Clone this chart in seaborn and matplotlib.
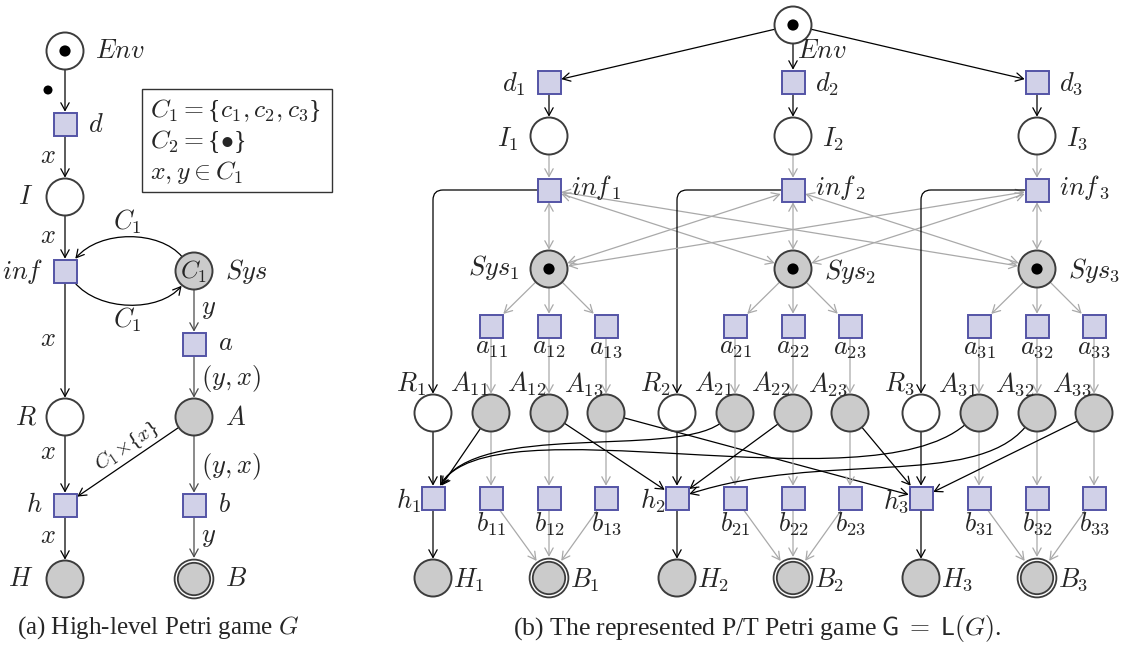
import numpy as np
import matplotlib
matplotlib.use("Agg")
import matplotlib.pyplot as plt
from matplotlib.patches import Circle, Rectangle, FancyArrowPatch
from matplotlib.path import Path
import seaborn as sns

# ── Style ──────────────────────────────────────────────────────────────────────
sns.set_theme(style="white")
plt.rcParams["font.family"] = ["Liberation Serif", "DejaVu Serif"]
plt.rcParams["mathtext.fontset"] = "cm"

W, H = 1127, 645
R_PLACE = 18.5
R_FINAL = 20.3
HALF_T = 11.5
T_FILL, T_EDGE = "#d1d1e8", "#5454a6"
P_FILL, P_EDGE = "#cbcbcb", "#3c3c3c"
GREY = "#a9a9a9"
DARK = "#4a4a4a"
FS = 19

# ── Panel (a): high-level Petri game ─────────────────────────────────────────
HL_PLACES = {"Env": (65, 51), "I": (65, 197), "Sys": (194, 271),
             "R": (65, 417), "A": (194, 417), "H": (65, 579), "B": (194, 579)}
HL_PLACE_KIND = {"Env": "token", "I": "empty", "Sys": "grey", "R": "empty",
                 "A": "grey", "H": "grey", "B": "final"}
HL_TRANS = {"d": (65, 124), "inf": (65, 271), "a": (194, 344),
            "h": (65, 505), "b": (194, 505)}
HL_ARCS_BLACK = [("Env", "d"), ("d", "I"), ("I", "inf"), ("inf", "R"),
                 ("R", "h"), ("h", "H"), ("A", "h")]
HL_ARCS_DARK = [("Sys", "a"), ("a", "A"), ("A", "b"), ("b", "B")]
# (from, to, out angle, out length, in angle, in length)
HL_BENT = [("Sys", "inf", 130, 35, 50, 38), ("inf", "Sys", -50, 38, 230, 35)]
HL_NODE_LABELS = [("$Env$", 95, 52, "left"), ("$d$", 88, 125, "left"),
                  ("$I$", 33, 197, "right"), ("$inf$", 43, 272, "right"),
                  ("$Sys$", 225, 271, "left"), ("$a$", 218, 344, "left"),
                  ("$A$", 225, 418, "left"), ("$R$", 37, 418, "right"),
                  ("$h$", 43, 505, "right"), ("$b$", 218, 505, "left"),
                  ("$H$", 33, 580, "right"), ("$B$", 225, 580, "left")]
HL_ARC_LABELS = [("$x$", 48, 157), ("$x$", 48, 237), ("$x$", 48, 340),
                 ("$x$", 48, 453), ("$x$", 48, 537), ("$y$", 209, 310),
                 ("$y$", 209, 538), ("$(y,x)$", 231, 378), ("$(y,x)$", 231, 466),
                 ("$C_1$", 127, 222), ("$C_1$", 127, 320)]
# braces set as plain text so they keep normal size
HL_BOX_LINES = [r"$C_1 =${$c_1, c_2, c_3$}", r"$C_2 =${$\bullet$}", r"$x, y \in C_1$"]

# ── Panel (b): P/T Petri game ─────────────────────────────────────────────────
PT_ENV = (793, 25)
PT_GROUP_X = [433, 677, 921]                                          # R_i, h_i, H_i
PT_SUB_X = [[491, 549, 606], [735, 793, 850], [979, 1037, 1094]]      # a_ij, A_ij, b_ij
PT_ROW_Y = {"d": 82, "I": 136, "inf": 190, "Sys": 269, "a": 326,
            "A": 413, "h": 498, "H": 578}
# curved A_ij -> h_j arcs: (from, to, out, out length, in, in length)
PT_BENT = [("A21", "h1", 215, 60, 60, 75), ("A31", "h1", 220, 130, 60, 100),
           ("A32", "h2", 230, 80, 18, 140)]

NODES = {}


def ang_dir(a):
    r = np.radians(a)
    return np.cos(r), -np.sin(r)


def boundary(name, toward=None, ang=None, gap=0.0):
    x, y, shape = NODES[name]
    if toward is not None:
        dx, dy = NODES[toward][0] - x, NODES[toward][1] - y
    else:
        dx, dy = ang_dir(ang)
    n = np.hypot(dx, dy)
    dx, dy = dx / n, dy / n
    if shape == "c":
        t = R_PLACE + gap
    elif shape == "f":
        t = R_FINAL + gap
    else:
        t = (HALF_T + gap) / max(abs(dx), abs(dy))
    return x + dx * t, y + dy * t


def arrow_style(both=False):
    return ("<->" if both else "->") + ",head_length=0.55,head_width=0.3"


def arc(ax, a, b, color="black", both=False):
    p0 = boundary(a, toward=b, gap=0.8 if both else 0.0)
    p1 = boundary(b, toward=a, gap=0.8)
    ax.add_patch(FancyArrowPatch(p0, p1, arrowstyle=arrow_style(both), mutation_scale=10,
                                 lw=0.9, color=color, shrinkA=0, shrinkB=0, zorder=1))


def bent(ax, a, b, out, lo, inn, li, color="black"):
    p0 = np.array(boundary(a, ang=out))
    p3 = np.array(boundary(b, ang=inn, gap=0.8))
    c1 = p0 + lo * np.array(ang_dir(out))
    c2 = p3 + li * np.array(ang_dir(inn))
    path = Path([p0, c1, c2, p3], [Path.MOVETO, Path.CURVE4, Path.CURVE4, Path.CURVE4])
    ax.add_patch(FancyArrowPatch(path=path, arrowstyle=arrow_style(), mutation_scale=10,
                                 lw=0.9, color=color, zorder=1))


def corner(ax, a, b, rad=10):
    # horizontal from transition a, rounded corner, down into place b
    xa, ya = boundary(a, ang=180)
    xb, yb = boundary(b, ang=90, gap=0.8)
    verts = [(xa, ya), (xb + rad, ya), (xb, ya), (xb, ya + rad), (xb, yb)]
    codes = [Path.MOVETO, Path.LINETO, Path.CURVE3, Path.CURVE3, Path.LINETO]
    ax.add_patch(FancyArrowPatch(path=Path(verts, codes), arrowstyle=arrow_style(),
                                 mutation_scale=10, lw=0.9, color="black", zorder=1))


def place(ax, name, x, y, kind, inner=None):
    if kind == "final":
        NODES[name] = (x, y, "f")
        ax.add_patch(Circle((x, y), 17.8, fc=P_FILL, ec=P_EDGE, lw=3.6, zorder=3))
        ax.add_patch(Circle((x, y), 17.8, fill=False, ec="white", lw=1.0, zorder=3))
        return
    NODES[name] = (x, y, "c")
    fc = P_FILL if kind in ("grey", "grey_token") else "white"
    ax.add_patch(Circle((x, y), R_PLACE, fc=fc, ec=P_EDGE, lw=1.4, zorder=3))
    if kind in ("token", "grey_token"):
        ax.add_patch(Circle((x, y), 5.6, fc="black", ec="none", zorder=4))
    if inner:
        ax.text(x, y + 1, inner, ha="center", va="center", fontsize=FS - 1, zorder=5)


def transition(ax, name, x, y):
    NODES[name] = (x, y, "s")
    ax.add_patch(Rectangle((x - HALF_T, y - HALF_T), 2 * HALF_T, 2 * HALF_T,
                           fc=T_FILL, ec=T_EDGE, lw=1.4, zorder=3))


def label(ax, s, x, y, ha="center", fs=FS, **kw):
    ax.text(x, y, s, ha=ha, va="center", fontsize=fs, zorder=5, **kw)


fig = plt.figure(figsize=(W / 100, H / 100), dpi=100)
ax = fig.add_axes([0, 0, 1, 1])
ax.set_xlim(0, W)
ax.set_ylim(H, 0)
ax.axis("off")

# ── draw panel (a) ────────────────────────────────────────────────────────────
for n, (x, y) in HL_PLACES.items():
    place(ax, n, x, y, HL_PLACE_KIND[n], inner="$C_1$" if n == "Sys" else None)
for n, (x, y) in HL_TRANS.items():
    transition(ax, n, x, y)
for a, b in HL_ARCS_BLACK:
    arc(ax, a, b)
for a, b in HL_ARCS_DARK:
    arc(ax, a, b, color=DARK)
for a, b, o, lo, i, li in HL_BENT:
    bent(ax, a, b, o, lo, i, li)
for s, x, y, ha in HL_NODE_LABELS:
    label(ax, s, x, y, ha)
for s, x, y in HL_ARC_LABELS:
    label(ax, s, x, y)
label(ax, r"$C_1\!\times\!${$x$}", 127, 446, fs=15, rotation=34, rotation_mode="anchor")
ax.add_patch(Circle((48, 90), 4.5, fc="black", ec="none", zorder=4))
ax.add_patch(Rectangle((142, 89), 190, 103, fill=False, ec="#333333", lw=1.0, zorder=2))
for k, s in enumerate(HL_BOX_LINES):
    label(ax, s, 150, 111 + 31 * k, ha="left", fs=18.5)

# ── draw panel (b) ────────────────────────────────────────────────────────────
place(ax, "EnvPT", *PT_ENV, "token")
label(ax, "$Env$", 797, 52, "left")
for i in range(3):
    g = i + 1
    xm = PT_SUB_X[i][1]
    xr = PT_GROUP_X[i]
    transition(ax, f"d{g}", xm, PT_ROW_Y["d"])
    place(ax, f"I{g}", xm, PT_ROW_Y["I"], "empty")
    transition(ax, f"inf{g}", xm, PT_ROW_Y["inf"])
    place(ax, f"Sys{g}", xm, PT_ROW_Y["Sys"], "grey_token")
    place(ax, f"R{g}", xr, PT_ROW_Y["A"], "empty")
    transition(ax, f"h{g}", xr, PT_ROW_Y["h"])
    place(ax, f"H{g}", xr, PT_ROW_Y["H"], "grey")
    place(ax, f"B{g}", xm, PT_ROW_Y["H"], "final")
    for j in range(3):
        xs = PT_SUB_X[i][j]
        transition(ax, f"a{g}{j + 1}", xs, PT_ROW_Y["a"])
        place(ax, f"A{g}{j + 1}", xs, PT_ROW_Y["A"], "grey")
        transition(ax, f"b{g}{j + 1}", xs, PT_ROW_Y["h"])

    # labels
    if i == 0:
        label(ax, f"$d_{g}$", xm - 23, 84, "right")
        label(ax, f"$I_{g}$", xm - 31, 139, "right")
        label(ax, f"$Sys_{g}$", xm - 30, 268, "right")
    else:
        label(ax, f"$d_{g}$", xm + 22, 84, "left")
        label(ax, f"$I_{g}$", xm + 29, 139, "left")
        label(ax, f"$Sys_{g}$", xm + 31, 271, "left")
    label(ax, f"$inf_{{\\,{g}}}$", xm + 22, 188, "left")
    label(ax, f"$R_{g}$", xr - 22, 384)
    label(ax, f"$h_{g}$", xr - 12, 501, "right")
    label(ax, f"$H_{g}$", xr + 20, 580, "left")
    label(ax, f"$B_{g}$", xm + 21, 580, "left")
    for j in range(3):
        xs = PT_SUB_X[i][j]
        label(ax, f"$a_{{{g}{j + 1}}}$", xs, 349)
        label(ax, f"$A_{{{g}{j + 1}}}$", xs - 22, 384)
        label(ax, f"$b_{{{g}{j + 1}}}$", xs, 524)

bent_pairs = {(a, b) for a, b, *_ in PT_BENT}
for i in range(3):
    g = i + 1
    arc(ax, "EnvPT", f"d{g}")
    arc(ax, f"d{g}", f"I{g}")
    arc(ax, f"I{g}", f"inf{g}", color=GREY)
    for k in range(3):
        arc(ax, f"inf{g}", f"Sys{k + 1}", color=GREY, both=True)
    corner(ax, f"inf{g}", f"R{g}")
    arc(ax, f"R{g}", f"h{g}")
    arc(ax, f"h{g}", f"H{g}")
    for j in range(3):
        s = f"{g}{j + 1}"
        arc(ax, f"Sys{g}", f"a{s}", color=GREY)
        arc(ax, f"a{s}", f"A{s}", color=GREY)
        arc(ax, f"A{s}", f"b{s}", color=GREY)
        arc(ax, f"b{s}", f"B{g}", color=GREY)
        if (f"A{s}", f"h{j + 1}") not in bent_pairs:
            arc(ax, f"A{s}", f"h{j + 1}")
for a, b, o, lo, i_, li in PT_BENT:
    bent(ax, a, b, o, lo, i_, li)

# ── captions ──────────────────────────────────────────────────────────────────
ax.text(17, 628, "(a) High-level Petri game $G$", ha="left", va="center", fontsize=18)
ax.text(513, 628, r"(b) The represented P/T Petri game $\mathsf{G} \;=\; \mathsf{L}(G)$.",
        ha="left", va="center", fontsize=18.5)

fig.savefig("out.png", dpi=100)
